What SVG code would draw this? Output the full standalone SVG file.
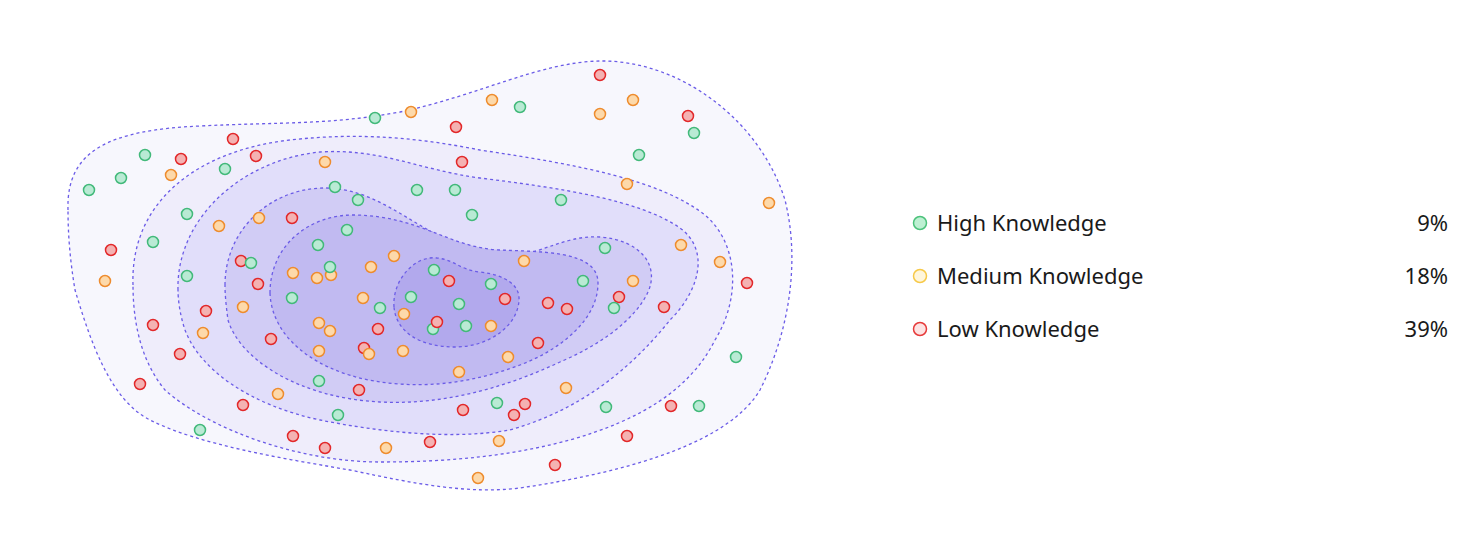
<svg xmlns="http://www.w3.org/2000/svg" width="1480" height="544" viewBox="0 0 1480 544">
<style>
.c{stroke:#6b5ce7;stroke-width:1.3;stroke-dasharray:3 3}
.g{fill:#b9ead4;stroke:#42b97a;stroke-width:1.5}
.o{fill:#fdd9aa;stroke:#ee8c2e;stroke-width:1.5}
.r{fill:#f4b2b2;stroke:#e2282a;stroke-width:1.5}
.t{font-family:"Noto Sans","Open Sans",sans-serif;font-size:22px;fill:#1a1a1a}
</style>
<rect width="1480" height="544" fill="#ffffff"/>
<g id="contours">
<path class="c" fill="#f7f7fd" d="M 68 210 C 66 150, 110 130, 200 126 C 280 122, 330 125, 400 112 C 480 95, 540 62, 600 61 C 680 60, 760 120, 785 200 C 800 260, 790 330, 760 390 C 730 440, 640 470, 520 488 C 470 494, 420 485, 350 470 C 280 458, 200 445, 150 420 C 110 400, 90 340, 75 290 C 70 260, 68 235, 68 210 Z"/>
<path class="c" fill="#efedfb" d="M 133 285 C 130 200, 200 150, 290 140 C 360 132, 420 138, 480 150 C 580 165, 660 180, 705 215 C 740 245, 740 300, 715 340 C 690 390, 640 420, 570 440 C 510 456, 450 462, 380 462 C 300 462, 210 430, 165 390 C 140 360, 133 320, 133 285 Z"/>
<path class="c" fill="#e1defa" d="M 178 290 C 176 220, 240 160, 320 152 C 380 148, 420 170, 480 178 C 560 188, 640 200, 680 228 C 710 250, 700 290, 670 320 C 630 370, 580 410, 510 430 C 450 440, 380 432, 320 420 C 250 405, 200 370, 185 330 C 180 315, 178 300, 178 290 Z"/>
<path class="c" fill="#d1ccf5" d="M 225 285 C 225 230, 270 188, 325 188 C 390 188, 430 250, 500 255 C 540 258, 560 235, 600 237 C 640 240, 660 265, 648 292 C 635 320, 600 345, 560 362 C 500 390, 440 405, 380 402 C 300 398, 240 360, 228 320 C 226 305, 225 295, 225 285 Z"/>
<path class="c" fill="#c1baf1" d="M 270 293 C 270 245, 310 214, 355 215 C 420 216, 450 248, 500 250 C 540 252, 598 250, 598 283 C 598 320, 560 350, 520 365 C 480 380, 440 387, 400 384 C 330 380, 272 345, 270 293 Z"/>
<path class="c" fill="#b2a9ed" d="M 394 307 C 392 280, 415 255, 437 258 C 455 260, 460 270, 480 272 C 505 275, 520 285, 519 300 C 518 325, 490 347, 455 347 C 420 347, 396 332, 394 307 Z"/>
</g>
<g id="points">
<circle class="r" cx="600" cy="75" r="5.5"/><circle class="o" cx="492" cy="100" r="5.5"/><circle class="g" cx="520" cy="107" r="5.5"/><circle class="o" cx="633" cy="100" r="5.5"/><circle class="o" cx="411" cy="112" r="5.5"/><circle class="o" cx="600" cy="114" r="5.5"/><circle class="r" cx="688" cy="116" r="5.5"/><circle class="g" cx="375" cy="118" r="5.5"/><circle class="r" cx="456" cy="127" r="5.5"/><circle class="g" cx="694" cy="133" r="5.5"/>
<circle class="r" cx="233" cy="139" r="5.5"/><circle class="g" cx="145" cy="155" r="5.5"/><circle class="r" cx="181" cy="159" r="5.5"/><circle class="r" cx="256" cy="156" r="5.5"/><circle class="g" cx="639" cy="155" r="5.5"/><circle class="o" cx="325" cy="162" r="5.5"/><circle class="r" cx="462" cy="162" r="5.5"/><circle class="g" cx="225" cy="169" r="5.5"/><circle class="o" cx="171" cy="175" r="5.5"/><circle class="g" cx="121" cy="178" r="5.5"/><circle class="o" cx="627" cy="184" r="5.5"/><circle class="g" cx="89" cy="190" r="5.5"/><circle class="g" cx="335" cy="187" r="5.5"/><circle class="g" cx="417" cy="190" r="5.5"/><circle class="g" cx="455" cy="190" r="5.5"/><circle class="g" cx="358" cy="200" r="5.5"/><circle class="g" cx="561" cy="200" r="5.5"/><circle class="o" cx="769" cy="203" r="5.5"/><circle class="g" cx="187" cy="214" r="5.5"/><circle class="r" cx="292" cy="218" r="5.5"/><circle class="g" cx="472" cy="215" r="5.5"/><circle class="o" cx="259" cy="218" r="5.5"/><circle class="o" cx="219" cy="226" r="5.5"/><circle class="g" cx="347" cy="230" r="5.5"/><circle class="g" cx="153" cy="242" r="5.5"/><circle class="g" cx="318" cy="245" r="5.5"/><circle class="o" cx="681" cy="245" r="5.5"/><circle class="g" cx="605" cy="248" r="5.5"/><circle class="r" cx="111" cy="250" r="5.5"/><circle class="o" cx="394" cy="256" r="5.5"/><circle class="r" cx="241" cy="261" r="5.5"/><circle class="g" cx="251" cy="263" r="5.5"/><circle class="o" cx="524" cy="261" r="5.5"/><circle class="o" cx="720" cy="262" r="5.5"/><circle class="o" cx="371" cy="267" r="5.5"/><circle class="o" cx="293" cy="273" r="5.5"/><circle class="o" cx="317" cy="278" r="5.5"/><circle class="o" cx="331" cy="275" r="5.5"/><circle class="g" cx="330" cy="267" r="5.5"/><circle class="g" cx="187" cy="276" r="5.5"/><circle class="g" cx="434" cy="270" r="5.5"/><circle class="r" cx="449" cy="281" r="5.5"/><circle class="g" cx="491" cy="284" r="5.5"/><circle class="o" cx="633" cy="281" r="5.5"/><circle class="g" cx="583" cy="281" r="5.5"/><circle class="r" cx="747" cy="283" r="5.5"/><circle class="o" cx="105" cy="281" r="5.5"/><circle class="r" cx="258" cy="284" r="5.5"/><circle class="g" cx="292" cy="298" r="5.5"/><circle class="o" cx="363" cy="298" r="5.5"/><circle class="g" cx="411" cy="297" r="5.5"/><circle class="r" cx="505" cy="299" r="5.5"/><circle class="r" cx="619" cy="297" r="5.5"/><circle class="g" cx="459" cy="304" r="5.5"/><circle class="r" cx="548" cy="303" r="5.5"/><circle class="r" cx="567" cy="309" r="5.5"/><circle class="g" cx="380" cy="308" r="5.5"/><circle class="o" cx="243" cy="307" r="5.5"/><circle class="r" cx="206" cy="311" r="5.5"/><circle class="g" cx="614" cy="308" r="5.5"/><circle class="r" cx="664" cy="307" r="5.5"/><circle class="o" cx="404" cy="314" r="5.5"/><circle class="o" cx="319" cy="323" r="5.5"/><circle class="r" cx="153" cy="325" r="5.5"/><circle class="g" cx="433" cy="329" r="5.5"/><circle class="r" cx="437" cy="322" r="5.5"/><circle class="o" cx="330" cy="331" r="5.5"/><circle class="o" cx="491" cy="326" r="5.5"/><circle class="g" cx="466" cy="326" r="5.5"/><circle class="r" cx="378" cy="329" r="5.5"/><circle class="o" cx="203" cy="333" r="5.5"/><circle class="r" cx="271" cy="339" r="5.5"/><circle class="r" cx="538" cy="343" r="5.5"/><circle class="r" cx="364" cy="348" r="5.5"/><circle class="o" cx="369" cy="354" r="5.5"/><circle class="o" cx="319" cy="351" r="5.5"/><circle class="o" cx="403" cy="351" r="5.5"/><circle class="r" cx="180" cy="354" r="5.5"/><circle class="o" cx="508" cy="357" r="5.5"/><circle class="g" cx="736" cy="357" r="5.5"/><circle class="o" cx="459" cy="372" r="5.5"/><circle class="g" cx="319" cy="381" r="5.5"/><circle class="r" cx="140" cy="384" r="5.5"/><circle class="o" cx="566" cy="388" r="5.5"/><circle class="r" cx="359" cy="390" r="5.5"/><circle class="o" cx="278" cy="394" r="5.5"/><circle class="g" cx="497" cy="403" r="5.5"/><circle class="r" cx="525" cy="404" r="5.5"/><circle class="r" cx="671" cy="406" r="5.5"/><circle class="g" cx="699" cy="406" r="5.5"/><circle class="g" cx="606" cy="407" r="5.5"/><circle class="r" cx="243" cy="405" r="5.5"/><circle class="r" cx="463" cy="410" r="5.5"/><circle class="g" cx="338" cy="415" r="5.5"/><circle class="r" cx="514" cy="415" r="5.5"/><circle class="g" cx="200" cy="430" r="5.5"/><circle class="r" cx="293" cy="436" r="5.5"/><circle class="r" cx="627" cy="436" r="5.5"/><circle class="r" cx="430" cy="442" r="5.5"/><circle class="o" cx="499" cy="441" r="5.5"/><circle class="r" cx="325" cy="448" r="5.5"/><circle class="o" cx="386" cy="448" r="5.5"/><circle class="r" cx="555" cy="465" r="5.5"/><circle class="o" cx="478" cy="478" r="5.5"/>
</g>
<g id="legend-high">
<circle cx="920" cy="223" r="6.5" fill="#bdf0d2" stroke="#4cc27b" stroke-width="1.5"/>
<text class="t" x="937" y="231">High Knowledge</text>
<text class="t" x="1448" y="231" text-anchor="end">9%</text>
</g>
<g id="legend-medium">
<circle cx="920" cy="276" r="6.5" fill="#fff6dc" stroke="#f7c948" stroke-width="1.5"/>
<text class="t" x="937" y="284">Medium Knowledge</text>
<text class="t" x="1448" y="284" text-anchor="end">18%</text>
</g>
<g id="legend-low">
<circle cx="920" cy="329" r="6.5" fill="#fde3e3" stroke="#e63a3a" stroke-width="1.5"/>
<text class="t" x="937" y="337">Low Knowledge</text>
<text class="t" x="1448" y="337" text-anchor="end">39%</text>
</g>
</svg>
